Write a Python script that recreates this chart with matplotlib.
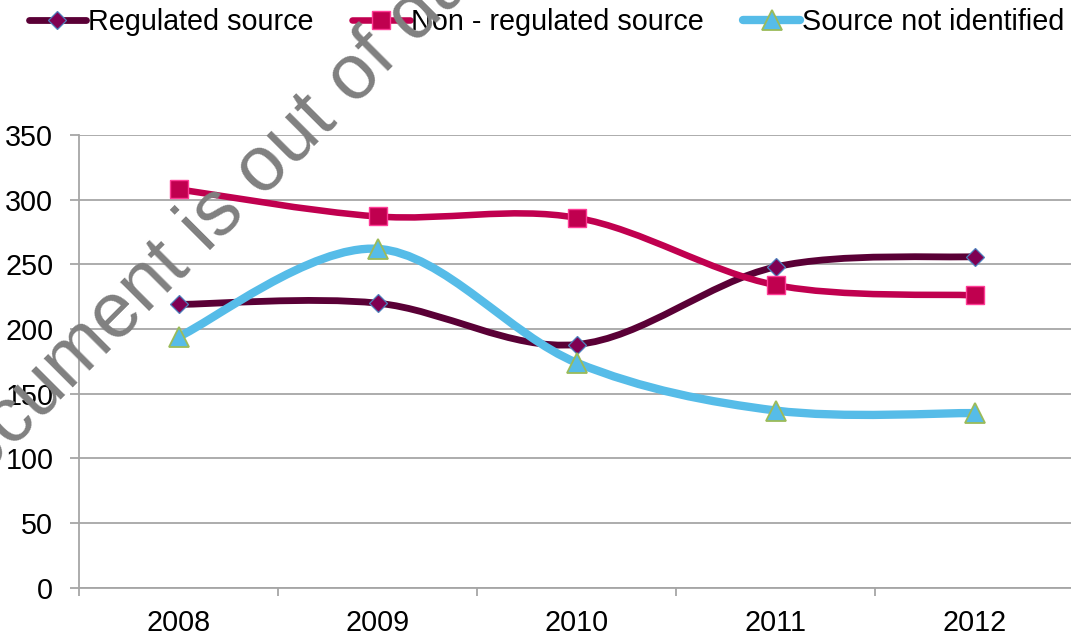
import matplotlib
matplotlib.use("Agg")
import matplotlib.pyplot as plt
from matplotlib.path import Path
from matplotlib.patches import PathPatch
from matplotlib.lines import Line2D
import numpy as np

plt.rcParams['font.family'] = ['Liberation Sans', 'DejaVu Sans']

years = ['2008', '2009', '2010', '2011', '2012']
regulated = [219, 220, 188, 248, 256]
non_regulated = [308, 287, 286, 234, 226]
not_identified = [194, 262, 174, 137, 135]
series_names = ['Regulated source', 'Non - regulated source', 'Source not identified']
y_ticks = [0, 50, 100, 150, 200, 250, 300, 350]

W, H = 1071, 637
fig = plt.figure(figsize=(W / 100, H / 100), dpi=100)
ax = fig.add_axes([79 / W, 1 - 587.7 / H, 995 / W, 452.7 / H])

grid_c = '#A6A6A6'
FS = 20.7


def smooth_path(xs, ys):
    pts = np.column_stack([xs, ys]).astype(float)
    n = len(pts)
    verts = [pts[0]]
    codes = [Path.MOVETO]
    for i in range(n - 1):
        p_prev = pts[i - 1] if i > 0 else pts[i]
        p0 = pts[i]
        p1 = pts[i + 1]
        p_next = pts[i + 2] if i + 2 < n else pts[i + 1]
        c1 = p0 + (p1 - p_prev) / 6.0
        c2 = p1 - (p_next - p0) / 6.0
        verts += [c1, c2, p1]
        codes += [Path.CURVE4] * 3
    return Path(verts, codes)


styles = [
    dict(color='#5A0036', lw=4.9, marker='D', ms=9.0, mfc='#800052', mec='#4F81BD', mew=0.9),
    dict(color='#C0004F', lw=4.7, marker='s', ms=13.5, mfc='#C0004F', mec='#FF3C96', mew=1.0),
    dict(color='#56BCE8', lw=6.0, marker='^', ms=14.0, mfc='#56BCE8', mec='#9BBB59', mew=1.3),
]
data = [regulated, non_regulated, not_identified]
x = np.arange(len(years))

handles = []
for k, (vals, st) in enumerate(zip(data, styles)):
    patch = PathPatch(smooth_path(x, vals), fill=False, edgecolor=st['color'],
                      lw=st['lw'], capstyle='round', joinstyle='round', zorder=3 + 2 * k)
    ax.add_patch(patch)
    ax.plot(x, vals, linestyle='none', marker=st['marker'], ms=st['ms'],
            mfc=st['mfc'], mec=st['mec'], mew=st['mew'], zorder=4 + 2 * k)
    handles.append(Line2D([], [], color=st['color'], lw=st['lw'], marker=st['marker'],
                          ms=st['ms'], mfc=st['mfc'], mec=st['mec'], mew=st['mew'],
                          solid_capstyle='round'))

ax.set_xlim(-0.5, len(years) - 0.5)
ax.set_ylim(0, 350)
ax.set_yticks(y_ticks)
ax.set_yticklabels([str(v) for v in y_ticks])
ax.set_xticks(x)
ax.set_xticklabels(years)
ax.set_xticks(np.arange(len(years) + 1) - 0.5, minor=True)

ax.yaxis.grid(True, color=grid_c, lw=1.3)
ax.set_axisbelow(True)
for s in ['top', 'right']:
    ax.spines[s].set_visible(False)
for s in ['left', 'bottom']:
    ax.spines[s].set_color(grid_c)
    ax.spines[s].set_linewidth(1.3)

ax.tick_params(axis='y', which='major', direction='out', length=6.5, width=1.3,
               color=grid_c, pad=12, labelsize=FS, labelcolor='black')
ax.tick_params(axis='x', which='major', length=0, pad=15, labelsize=FS, labelcolor='black')
ax.tick_params(axis='x', which='minor', direction='out', length=5.8, width=1.3, color=grid_c)

fig.legend(handles, series_names, loc='center', bbox_to_anchor=(546.5 / W, 1 - 22 / H),
           ncol=3, frameon=False, fontsize=FS, handlelength=2.0, handletextpad=0.06,
           columnspacing=1.35, borderpad=0, borderaxespad=0, numpoints=1)

fig.text(-58.7 / W, 1 - 519.5 / H, 'Document is out of date', rotation=45,
         rotation_mode='anchor', ha='left', va='baseline', fontsize=56,
         color='#808080', zorder=10)

fig.savefig('out.png', dpi=100)
